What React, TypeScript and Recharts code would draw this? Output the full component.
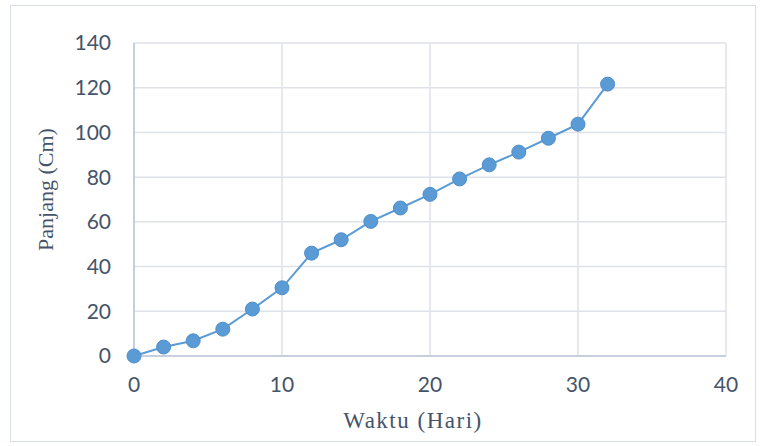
import React from "react";
import { LineChart, Line, XAxis, YAxis, CartesianGrid } from "recharts";

// Waktu (hari) dan panjang (cm)
const days = [0, 2, 4, 6, 8, 10, 12, 14, 16, 18, 20, 22, 24, 26, 28, 30, 32];
const lengths = [0, 4, 6.8, 12, 21, 30.5, 46, 52, 60.2, 66.2, 72.3, 79.2, 85.5, 91.2, 97.4, 103.7, 121.6];

const xTicks = [0, 10, 20, 30, 40];
const yTicks = [0, 20, 40, 60, 80, 100, 120, 140];

const data = days.map((d, i) => ({ day: d, length: lengths[i] }));

const TEXT = "#44546a";
const tickStyle = { fill: TEXT, fontFamily: "Lato, 'Open Sans', sans-serif", fontSize: 21 };
const titleStyle = { fill: TEXT, fontFamily: "'Liberation Serif', 'Times New Roman', serif", fontSize: 22 };

const App: React.FC = () => {
  return (
    <div style={{ position: "absolute", left: 0, top: 0, width: 761, height: 446, background: "#fff" }}>
      <div
        style={{
          position: "absolute",
          left: 10,
          top: 5,
          width: 744,
          height: 435,
          border: "1px solid #d9dde6",
        }}
      />
      <LineChart
        width={761}
        height={446}
        data={data}
        margin={{ top: 43, right: 35, left: 0, bottom: 0 }}
        style={{ position: "absolute", left: 0, top: 0 }}
      >
        <CartesianGrid stroke="#dfe2e8" strokeWidth={1.5} />
        <XAxis
          dataKey="day"
          type="number"
          domain={[0, 40]}
          ticks={xTicks}
          height={90}
          tickLine={false}
          tickSize={0}
          tickMargin={21}
          axisLine={{ stroke: "#bcc5d6", strokeWidth: 1.5 }}
          tick={tickStyle}
          label={{
            value: "Waktu (Hari)",
            position: "center",
            dx: -17,
            dy: 19,
            style: { ...titleStyle, fontSize: 23, letterSpacing: 1.5 },
          }}
        />
        <YAxis
          type="number"
          domain={[0, 140]}
          ticks={yTicks}
          width={134}
          tickLine={false}
          tickSize={0}
          tickMargin={23}
          axisLine={{ stroke: "#bcc5d6", strokeWidth: 1.5 }}
          tick={tickStyle}
          label={{
            value: "Panjang (Cm)",
            angle: -90,
            position: "center",
            dx: -22,
            dy: -10,
            style: titleStyle,
          }}
        />
        <Line
          dataKey="length"
          stroke="#5b9bd5"
          strokeWidth={2}
          dot={{ r: 7, fill: "#5b9bd5", stroke: "#4f8fcb", strokeWidth: 1 }}
          activeDot={false}
          isAnimationActive={false}
        />
      </LineChart>
    </div>
  );
};

export default App;
